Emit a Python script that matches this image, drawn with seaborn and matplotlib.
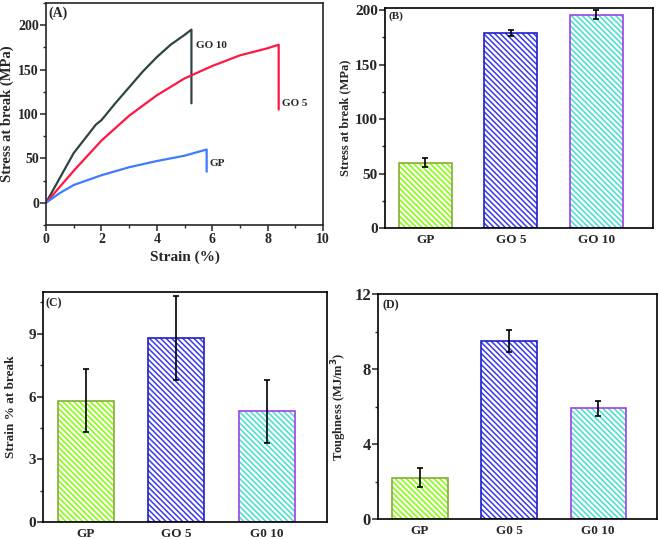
import numpy as np
import pandas as pd
import seaborn as sns
import matplotlib.pyplot as plt
from matplotlib.ticker import MultipleLocator

sns.set_style("ticks")
plt.rcParams['font.family'] = ['Liberation Serif', 'DejaVu Serif']
plt.rcParams['font.weight'] = 'bold'
plt.rcParams['axes.labelweight'] = 'bold'
plt.rcParams['hatch.linewidth'] = 1.1
plt.rcParams['axes.linewidth'] = 1.2

# ---- (A) stress-strain curves ----
go10_strain = [0, 0.5, 1.0, 1.5, 1.8, 2.0, 2.5, 3.0, 3.5, 4.0, 4.5, 5.0, 5.25, 5.25]
go10_stress = [0, 28, 56, 76, 88, 93, 112, 130, 148, 164, 178, 189, 195, 112]
go5_strain = [0, 0.5, 1, 2, 3, 4, 5, 6, 7, 8, 8.4, 8.4]
go5_stress = [0, 18, 36, 70, 98, 121, 140, 154, 166, 174, 178, 105]
gp_strain = [0, 0.5, 1, 2, 3, 4, 5, 5.8, 5.8]
gp_stress = [0, 11, 20, 31, 40, 47, 53, 60, 35]

# ---- bar panels ----
cats_b = ['GP', 'GO 5', 'GO 10']
stress_mean = [60, 179, 196]
stress_err = [4, 3, 4]

cats_c = ['GP', 'GO 5', 'G0 10']
strain_mean = [5.8, 8.8, 5.3]
strain_err = [1.5, 2.0, 1.5]

cats_d = ['GP', 'G0 5', 'G0 10']
tough_mean = [2.2, 9.5, 5.9]
tough_err = [0.5, 0.6, 0.4]

stripe_colors = ['#7fff00', '#3a3aee', '#3fe0cc']
border_colors = ['#8aa83a', '#1e1ecc', '#a040e8']

curves = pd.concat([
    pd.DataFrame({'strain': go10_strain, 'stress': go10_stress, 'sample': 'GO 10'}),
    pd.DataFrame({'strain': go5_strain, 'stress': go5_stress, 'sample': 'GO 5'}),
    pd.DataFrame({'strain': gp_strain, 'stress': gp_stress, 'sample': 'GP'}),
])
curve_colors = {'GO 10': '#2f4444', 'GO 5': '#ff1744', 'GP': '#3d7bff'}

fig = plt.figure(figsize=(6.6, 5.39), dpi=100)
axA = fig.add_axes([0.0697, 0.5826, 0.4197, 0.4119])
axB = fig.add_axes([0.5833, 0.577, 0.406, 0.408])
axC = fig.add_axes([0.0652, 0.0315, 0.430, 0.4267])
axD = fig.add_axes([0.5727, 0.0371, 0.4227, 0.4174])

sns.lineplot(data=curves, x='strain', y='stress', hue='sample', palette=curve_colors,
             estimator=None, sort=False, legend=False, linewidth=1.6, ax=axA)
axA.set_xlim(0, 10)
axA.set_ylim(-25, 225)
axA.xaxis.set_major_locator(MultipleLocator(2))
axA.xaxis.set_minor_locator(MultipleLocator(1))
axA.yaxis.set_major_locator(MultipleLocator(50))
axA.yaxis.set_minor_locator(MultipleLocator(25))
axA.set_xlabel('Strain (%)', fontsize=11, labelpad=3)
axA.set_ylabel('Stress at break (MPa)', fontsize=10.5, labelpad=3)
axA.tick_params(labelsize=10)
axA.text(5.42, 177, 'GO 10', fontsize=8, fontweight='bold', va='center')
axA.text(8.52, 112, 'GO 5', fontsize=8, fontweight='bold', va='center')
axA.text(5.92, 44, 'GP', fontsize=8, fontweight='bold', va='center')
axA.text(0.01, 0.985, '(A)', transform=axA.transAxes, fontsize=10, fontweight='bold', va='top')


def hatched_bars(ax, cats, vals, errs):
    sns.barplot(x=cats, y=vals, hue=cats, palette=stripe_colors, width=0.62,
                errorbar=None, legend=False, ax=ax)
    for p, c in zip(ax.patches, stripe_colors):
        p.set_facecolor('white')
        p.set_edgecolor(c)
        p.set_linewidth(0)
        p.set_hatch('\\\\\\\\\\\\')
    centers = [p.get_x() + p.get_width() / 2 for p in ax.patches]
    sns.barplot(x=cats, y=vals, hue=cats, palette=border_colors, width=0.62,
                errorbar=None, legend=False, fill=False, linewidth=1.2, ax=ax)
    ax.errorbar(centers, vals, yerr=errs, fmt='none', ecolor='black',
                elinewidth=1.2, capsize=2.5, capthick=1.2, zorder=5)
    ax.set_xlim(-0.47, 2.66)
    ax.set_xlabel('')
    for s in ax.spines.values():
        s.set_visible(True)
        s.set_color('black')


hatched_bars(axB, cats_b, stress_mean, stress_err)
axB.set_ylim(0, 202)
axB.yaxis.set_major_locator(MultipleLocator(50))
axB.yaxis.set_minor_locator(MultipleLocator(25))
axB.set_ylabel('Stress at break (MPa)', fontsize=9, labelpad=3)
axB.tick_params(axis='y', labelsize=11)
axB.tick_params(axis='x', labelsize=9.5)
axB.text(0.015, 0.985, '(B)', transform=axB.transAxes, fontsize=8, fontweight='bold', va='top')

hatched_bars(axC, cats_c, strain_mean, strain_err)
axC.set_ylim(0, 11)
axC.yaxis.set_major_locator(MultipleLocator(3))
axC.yaxis.set_minor_locator(MultipleLocator(1.5))
axC.set_ylabel('Strain % at break', fontsize=9.5, labelpad=8)
axC.tick_params(axis='y', labelsize=11)
axC.tick_params(axis='x', labelsize=9.5)
axC.text(0.01, 0.975, '(C)', transform=axC.transAxes, fontsize=8.5, fontweight='bold', va='top')

hatched_bars(axD, cats_d, tough_mean, tough_err)
axD.set_ylim(0, 12)
axD.yaxis.set_major_locator(MultipleLocator(4))
axD.yaxis.set_minor_locator(MultipleLocator(2))
axD.set_ylabel('Toughness (MJ/m$^\\mathbf{3}$)', fontsize=9, labelpad=4)
axD.tick_params(axis='y', labelsize=12)
axD.tick_params(axis='x', labelsize=9.5)
axD.text(0.015, 0.975, '(D)', transform=axD.transAxes, fontsize=8.5, fontweight='bold', va='top')

for ax in (axA, axB, axC, axD):
    ax.tick_params(which='major', direction='out', width=1.1)
    ax.tick_params(axis='y', which='major', length=4, pad=1)
    ax.tick_params(which='minor', direction='out', length=2.5, width=1.0)
    for s in ax.spines.values():
        s.set_linewidth(1.2)
axA.tick_params(axis='x', which='major', length=4, pad=2)
for ax in (axB, axC, axD):
    ax.tick_params(axis='x', which='both', length=0, pad=4)

fig.savefig('out.png', dpi=100)
